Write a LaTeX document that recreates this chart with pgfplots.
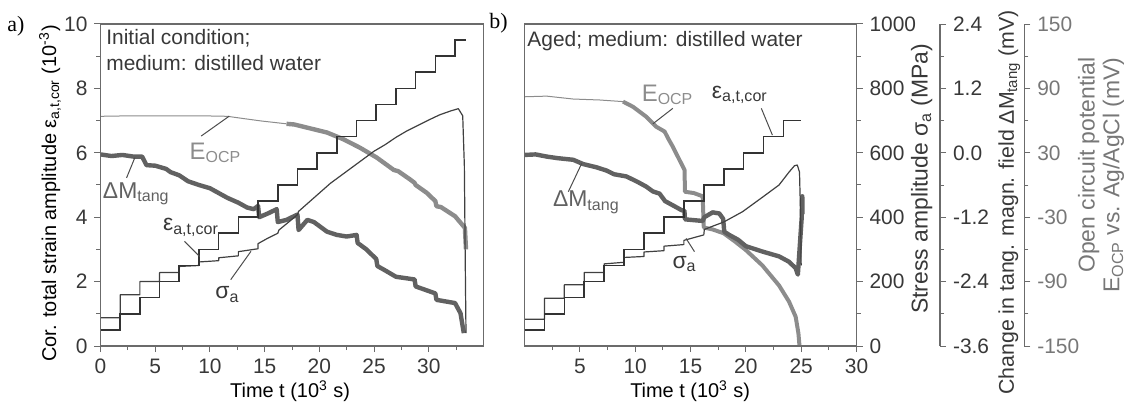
\documentclass[border=0pt]{standalone}
\usepackage{fontspec}
\setmainfont{Liberation Sans}
\newfontfamily\serifpanel{Liberation Serif}
\usepackage{pgfplots}
\pgfplotsset{compat=1.18}
\newcommand\tfont{\fontsize{10.5}{12.6}\selectfont}
\newcommand\lfont{\fontsize{11.5}{13.2}\selectfont}
\newcommand\afont{\fontsize{11.5}{13}\selectfont}
\definecolor{axgray}{gray}{0.42}
\definecolor{txt}{gray}{0.22}
\definecolor{cEps}{gray}{0.2}
\definecolor{cSig}{gray}{0.25}
\definecolor{cDM}{gray}{0.38}
\definecolor{cE}{gray}{0.55}
\pgfplotsset{
  common/.style={scale only axis, height=161bp, clip mode=individual,
    axis line style={axgray, line width=0.6bp},
    tick style={axgray, line width=0.5bp},
    major tick length=3bp, minor tick length=2bp, tick align=outside,
    tick label style={font=\tfont, text=txt},
    label style={font=\lfont, text=txt},
    /pgf/number format/1000 sep={},
    /pgf/number format/assume math mode=true},
  hidden/.style={scale only axis, height=161bp, hide axis, clip mode=individual},
}
\tikzset{lead/.style={black!70, line width=0.5bp}}
\begin{document}
\begin{tikzpicture}
\path[use as bounding box] (-50.25bp,-28bp) rectangle (512.25bp,173bp);

%% ---------------- panel a ----------------
% E_OCP (mV)
\begin{axis}[hidden, at={(0bp,0bp)}, anchor=south west, width=191.5bp,
  xmin=0, xmax=35, ymin=-150, ymax=150]
\addplot[cE, line width=0.5bp, line join=round] coordinates {
(0,64)(3,64.5)(6,64.5)(9,64.5)(11.6,64)(13,62)(14.65,59.7)(17,57)};
\addplot[cE, line width=2.2bp, line join=round] coordinates {
(17,57)(17.7,56.4)(20.7,48.9)(22.2,42.6)(23.7,34.8)(25.25,25.5)(26.8,14)
(27.2,12.9)(28.3,5.1)(28.7,2)(28.8,0)(29.8,-7.2)(30.6,-15)(30.7,-19.8)
(31.1,-20.5)(32.4,-29.1)(33.3,-39.9)(33.4,-60)};
\end{axis}
% Delta M_tang (mV)
\begin{axis}[hidden, at={(0bp,0bp)}, anchor=south west, width=191.5bp,
  xmin=0, xmax=35, ymin=-3.6, ymax=2.4]
\addplot[cDM, line width=2.2bp, line join=round] coordinates {
(0,-0.03)(1.0,-0.06)(2.0,-0.04)(3.0,-0.07)(3.8,-0.07)(4.2,-0.23)(5.0,-0.24)
(6.0,-0.30)(6.4,-0.36)(7.2,-0.42)(8.0,-0.53)(9.0,-0.60)(10.0,-0.66)(10.8,-0.75)
(11.6,-0.84)(12.6,-0.93)(13.4,-1.02)(14.0,-1.05)(14.4,-0.99)(14.5,-1.20)
(15.3,-1.13)(16.1,-1.05)(16.2,-1.29)(17.0,-1.25)(18.0,-1.15)(18.1,-1.44)
(18.9,-1.25)(19.5,-1.29)(20.7,-1.47)(21.6,-1.53)(22.5,-1.56)(23.4,-1.53)
(23.5,-1.68)(24.3,-1.80)(25.2,-1.98)(25.3,-2.11)(26.0,-2.19)(27.0,-2.31)
(28.7,-2.36)(28.8,-2.49)(30.6,-2.62)(30.7,-2.74)(32.4,-2.80)(32.9,-2.99)(33.2,-3.36)};
\end{axis}
% sigma_a (MPa)
\begin{axis}[hidden, at={(0bp,0bp)}, anchor=south west, width=191.5bp,
  xmin=0, xmax=35, ymin=0, ymax=1000]
\addplot[cSig, line width=0.6bp, line join=round] coordinates {
(0,88)(1.8,88)(1.8,159)(3.6,159)(3.6,200)(5.4,200)(5.4,228)(7.2,228)(7.2,247)
(9.0,250)(9.0,261)(10.8,265)(10.8,274)(12.6,280)(12.6,293)(14.4,302)(14.4,318)
(15.3,335)(16.2,350)(16.3,360)(17.2,385)(18.0,408)(18.1,418)(19.0,445)(20.0,475)
(21.0,505)(22.0,530)(23.0,555)(24.0,580)(25.0,605)(26.0,625)(27.0,648)(28.0,668)
(29.0,685)(30.0,702)(31.0,718)(32.0,730)(32.7,737)(33.1,715)(33.25,560)
(33.35,200)(33.4,40)};
\end{axis}
% strain (10^-3), frame and annotations
\begin{axis}[common, at={(0bp,0bp)}, anchor=south west, width=191.5bp,
  xmin=0, xmax=35, ymin=0, ymax=10,
  xtick={0,5,...,30}, minor xtick={2.5,7.5,...,32.5},
  ytick={0,2,...,10}, minor ytick={1,3,...,9},
  xtick pos=bottom, ytick pos=left,
  xlabel={Time t (10\textsuperscript{3} s)},
  ylabel={Cor. total strain amplitude ε\textsubscript{a,t,cor} (10\textsuperscript{-3})},
  every axis x label/.style={at={(rel axis cs:0.495,-0.14)}, anchor=center},
  every axis y label/.style={at={(rel axis cs:-0.132,0.474)}, rotate=90, anchor=center}]
\addplot[const plot, cEps, line width=0.8bp] coordinates {
(0,0.5)(1.8,1.0)(3.6,1.5)(5.4,2.0)(7.2,2.5)(9.0,3.0)(10.8,3.5)(12.6,4.0)(14.4,4.5)
(16.2,5.0)(18.0,5.5)(19.8,6.0)(21.6,6.5)(23.4,7.0)(25.2,7.5)(27.0,8.0)(28.8,8.5)
(30.6,9.0)(32.4,9.5)(33.4,9.5)};
\node[anchor=north west, align=left, inner sep=0pt, text=txt,
  font=\fontsize{10.5}{13}\selectfont] at (axis cs:0.5,9.84)
  {Initial condition;\\medium: distilled water};
\node[text=cE, font=\fontsize{12}{14}\selectfont] at (axis cs:10.5,6.0) {E\textsubscript{OCP}};
\draw[lead] (axis cs:9.2,6.52) -- (axis cs:11.77,7.14);
\node[text=cDM, font=\afont] at (axis cs:3.27,4.73) {ΔM\textsubscript{tang}};
\draw[lead] (axis cs:2.38,5.22) -- (axis cs:3.14,5.85);
\node[text=txt, font=\afont] at (axis cs:8.27,3.68) {ε\textsubscript{a,t,cor}};
\draw[lead] (axis cs:7.68,3.25) -- (axis cs:9.05,2.78);
\node[text=txt, font=\afont] at (axis cs:11.6,1.59) {σ\textsubscript{a}};
\draw[lead] (axis cs:11.9,2.06) -- (axis cs:13.75,2.94);
\end{axis}

%% ---------------- panel b ----------------
% E_OCP axis (outermost)
\begin{axis}[common, at={(212bp,0bp)}, anchor=south west, width=249.9bp,
  xmin=0, xmax=45.163, ymin=-150, ymax=150,
  axis x line=none, axis y line*=right, xtick=\empty,
  ytick={-150,-90,-30,30,90,150}, yticklabels={-150,-90,-30,30,90,150},
  minor ytick={-120,-60,0,60,120},
  yticklabel style={text=cE!85!black}]
\addplot[cE, line width=0.5bp, line join=round] coordinates {
(0,82.2)(2,82.8)(4.4,80.1)(6.8,79.2)(8.9,77.7)};
\addplot[cE, line width=2bp, line join=round] coordinates {
(8.9,77.7)(9.8,72.9)(11.0,63.6)(11.9,54.3)(12.66,49.8)(13.0,43)(13.4,35.7)
(14.0,23.4)(14.46,14.1)(14.5,-6.3)(15.3,-7.5)(16.1,-10.5)(16.2,-39.6)(17.0,-41.4)
(18.0,-45)(19.0,-52.5)(20.0,-60.6)(21.5,-75)(23.0,-93.6)(23.9,-108.6)
(24.5,-122.7)(24.75,-138)(24.85,-150)};
\node[rotate=90, anchor=east, align=right, inner sep=0pt, text=cE!85!black,
  font=\fontsize{11.5}{12.5}\selectfont] at (rel axis cs:1.1535,0.8975)
  {Open circuit potential\\E\textsubscript{OCP} vs. Ag/AgCl (mV)};
\end{axis}
% Delta M axis
\begin{axis}[common, at={(212bp,0bp)}, anchor=south west, width=207.75bp,
  xmin=0, xmax=37.545, ymin=-3.6, ymax=2.4,
  axis x line=none, axis y line*=right, xtick=\empty,
  ytick={-3.6,-2.4,-1.2,0,1.2,2.4}, yticklabels={-3.6,-2.4,-1.2,0.0,1.2,2.4},
  minor ytick={-3,-1.8,-0.6,0.6,1.8}]
\addplot[cDM, line width=2.2bp, line join=round] coordinates {
(0,-0.04)(1.0,-0.03)(2.0,-0.07)(3.0,-0.10)(4.4,-0.13)(5.3,-0.21)(6.5,-0.27)
(7.4,-0.33)(8.1,-0.40)(9.2,-0.44)(10.2,-0.54)(11.0,-0.63)(11.6,-0.72)(12.2,-0.76)
(12.7,-0.90)(13.5,-0.99)(14.2,-1.07)(14.45,-1.08)(14.5,-1.24)(16.1,-1.27)
(16.25,-1.20)(17.0,-1.11)(17.6,-1.13)(17.95,-1.23)(18.05,-1.47)(18.5,-1.53)
(19.3,-1.62)(20.0,-1.74)(21.5,-1.84)(23.0,-1.93)(23.9,-2.03)(24.5,-2.15)
(24.7,-2.27)(25.05,-1.20)(25.1,-0.81)(25.12,-1.14)};
\node[rotate=90, text=txt, font=\fontsize{10.7}{12.6}\selectfont] at (rel axis cs:1.167,0.446)
  {Change in tang. magn. field ΔM\textsubscript{tang} (mV)};
\end{axis}
% stress axis
\begin{axis}[common, at={(212bp,0bp)}, anchor=south west, width=166bp,
  xmin=0, xmax=30, ymin=0, ymax=1000,
  axis x line=none, axis y line*=right, xtick=\empty,
  ytick={0,200,...,1000}, minor ytick={100,300,...,900}]
\addplot[cSig, line width=0.6bp, line join=round] coordinates {
(0,83)(1.8,83)(1.8,148)(3.6,148)(3.6,190)(5.4,190)(5.4,228)(7.2,228)(7.2,255)
(9.0,260)(9.0,275)(10.8,278)(10.8,292)(12.6,296)(12.6,310)(14.4,315)(14.4,328)
(16.2,345)(16.25,362)(17.0,372)(18.0,385)(19.7,417)(21.5,462)(23.0,500)
(23.9,540)(24.4,560)(24.65,562)(24.85,540)(24.95,400)(25.0,250)};
\node[rotate=90, text=txt, font=\lfont] at (rel axis cs:1.196,0.519)
  {Stress amplitude σ\textsubscript{a} (MPa)};
\end{axis}
% strain, frame and annotations
\begin{axis}[common, at={(212bp,0bp)}, anchor=south west, width=166bp,
  xmin=0, xmax=30, ymin=0, ymax=10,
  xtick={5,10,...,30}, minor xtick={2.5,7.5,...,27.5}, ytick=\empty,
  xtick pos=bottom,
  xlabel={Time t (10\textsuperscript{3} s)},
  every axis x label/.style={at={(rel axis cs:0.499,-0.14)}, anchor=center}]
\addplot[const plot, cEps, line width=0.8bp] coordinates {
(0,0.5)(1.8,1.0)(3.6,1.5)(5.4,2.0)(7.2,2.5)(9.0,3.0)(10.8,3.5)(12.6,4.0)(14.4,4.5)
(16.2,5.0)(18.0,5.5)(19.8,6.0)(21.6,6.5)(23.4,7.0)(25.0,7.0)};
\node[anchor=north west, inner sep=0pt, text=txt, font=\tfont] at (axis cs:0.23,9.78)
  {Aged; medium: distilled water};
\node[text=cE, font=\fontsize{12}{14}\selectfont] at (axis cs:12.93,7.8) {E\textsubscript{OCP}};
\draw[lead] (axis cs:13.4,7.38) -- (axis cs:11.6,6.9);
\node[text=txt, font=\afont] at (axis cs:19.46,7.8) {ε\textsubscript{a,t,cor}};
\draw[lead] (axis cs:21.4,7.38) -- (axis cs:22.4,6.55);
\node[text=cDM, font=\afont] at (axis cs:5.59,4.46) {ΔM\textsubscript{tang}};
\draw[lead] (axis cs:3.96,4.79) -- (axis cs:5.17,5.67);
\node[text=txt, font=\afont] at (axis cs:14.46,2.55) {σ\textsubscript{a}};
\draw[lead] (axis cs:15.36,2.93) -- (axis cs:14.6,3.34);
\end{axis}

\node[font=\serifpanel\fontsize{11}{13}\selectfont] at (-42.25bp,160bp) {a)};
\node[font=\serifpanel\fontsize{11}{13}\selectfont] at (199bp,161.25bp) {b)};
\end{tikzpicture}
\end{document}
